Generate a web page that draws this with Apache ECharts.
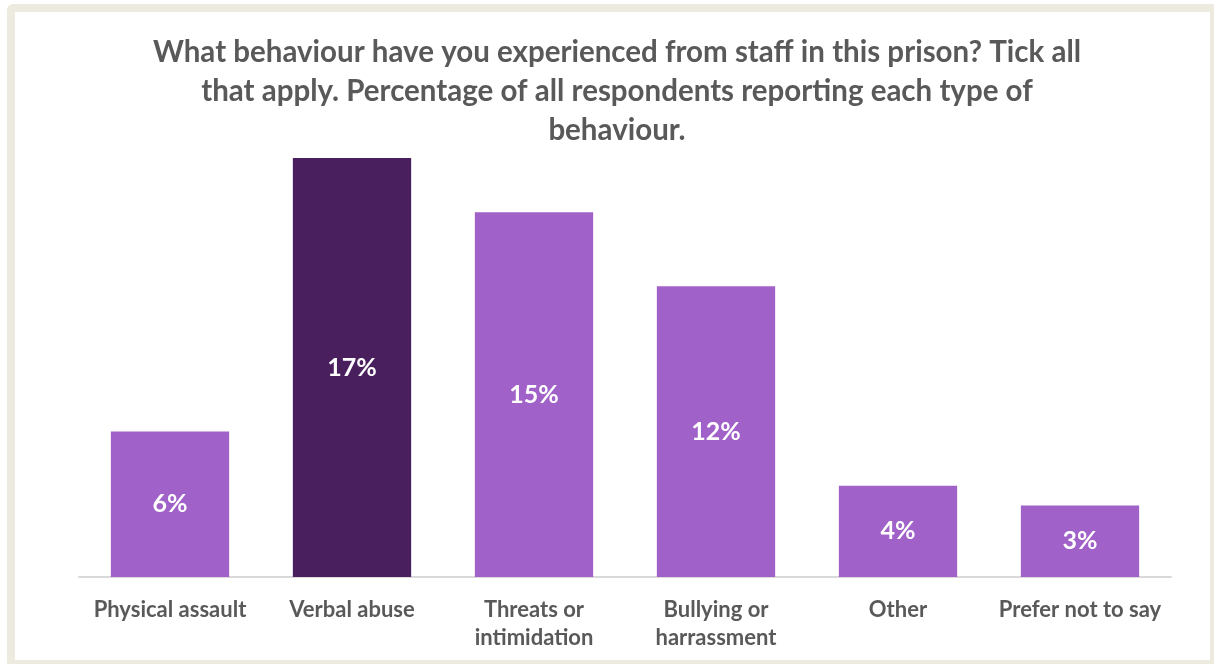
<!DOCTYPE html>
<html>
<head>
<meta charset="utf-8">
<script src="https://cdn.jsdelivr.net/npm/echarts@6/dist/echarts.min.js"></script>
<style>
  html, body { margin: 0; padding: 0; background: #ffffff; }
  #frame {
    position: absolute; left: 7px; top: 4px; width: 1195px; height: 648px;
    border: 8px solid #EDEAE0; border-radius: 6px; background: #ffffff;
  }
  #chart { position: absolute; left: 0; top: 0; width: 1214px; height: 664px; }
</style>
</head>
<body>
<div id="frame"></div>
<div id="chart"></div>
<script>
// Survey responses: share of respondents reporting each behaviour (%)
const categories = ['Physical assault', 'Verbal abuse', 'Threats or\nintimidation', 'Bullying or\nharrassment', 'Other', 'Prefer not to say'];
const values = [5.9, 17.0, 14.8, 11.8, 3.7, 2.9];
const highlightIndex = 1;

const titleText = 'What behaviour have you experienced from staff in this prison? Tick all\nthat apply. Percentage of all respondents reporting each type of\nbehaviour.';

const chart = echarts.init(document.getElementById('chart'), null, { renderer: 'canvas' });
chart.setOption({
  backgroundColor: 'transparent',
  animation: false,
  title: {
    text: titleText,
    left: 612,
    textAlign: 'center',
    top: 28,
    textStyle: {
      fontFamily: 'Lato', fontWeight: 'bold', fontSize: 29.5,
      color: '#595959', lineHeight: 39
    }
  },
  grid: { left: 79, right: 43, top: 84, bottom: 87 },
  xAxis: {
    type: 'category',
    data: categories,
    axisLine: { lineStyle: { color: '#D9D9D9', width: 2 } },
    axisTick: { show: false },
    axisLabel: {
      interval: 0, margin: 19,
      fontFamily: 'Lato', fontWeight: 'bold', fontSize: 22,
      color: '#595959', lineHeight: 28
    }
  },
  yAxis: {
    type: 'value', min: 0, max: 20, show: false,
    splitLine: { show: false }
  },
  series: [{
    type: 'bar',
    data: values.map((v, i) => ({
      value: v,
      itemStyle: { color: i === highlightIndex ? '#4A1F5E' : '#A061C8' }
    })),
    barCategoryGap: '35%',
    label: {
      show: true, position: 'inside',
      formatter: p => Math.round(p.value) + '%',
      fontFamily: 'Lato', fontWeight: 'bold', fontSize: 25, color: '#ffffff'
    }
  }]
});
</script>
</body>
</html>
